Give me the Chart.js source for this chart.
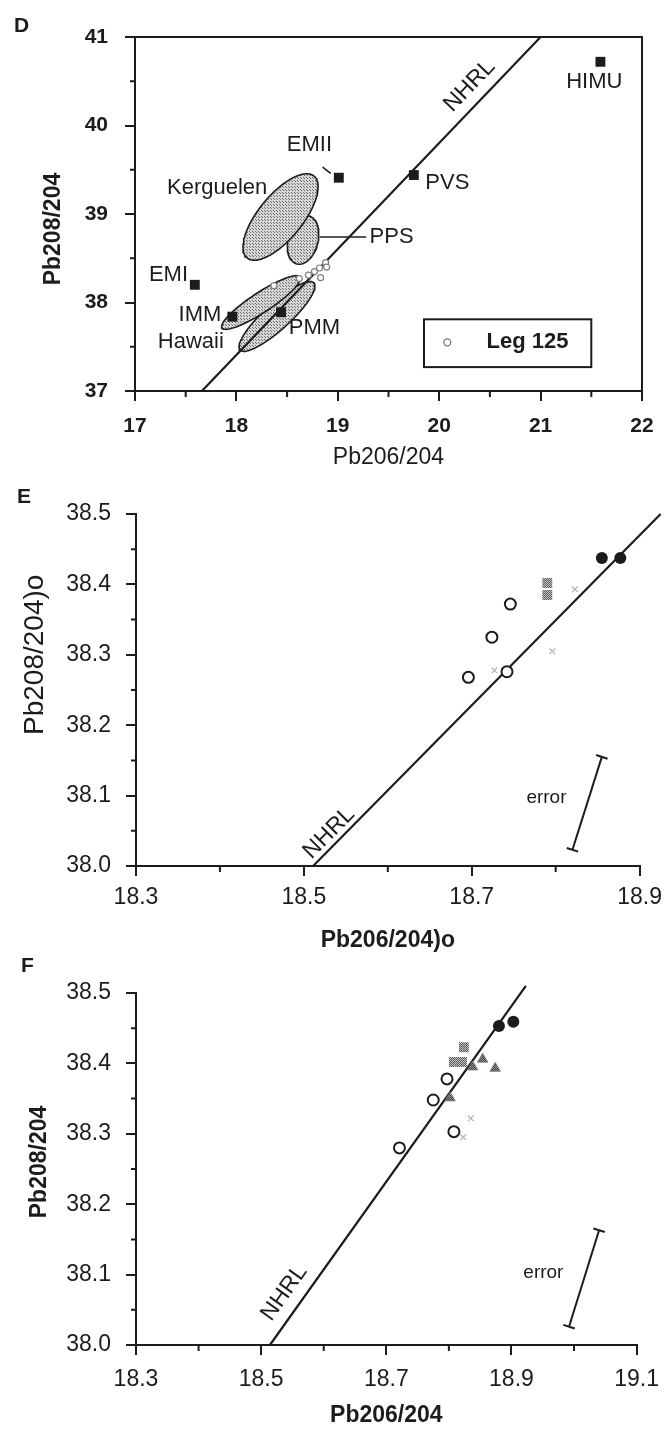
<!DOCTYPE html>
<html>
<head>
<meta charset="utf-8">
<script src="https://cdn.jsdelivr.net/npm/chart.js@4.4.1/dist/chart.umd.min.js"></script>
<style>
  body { margin: 0; background: #fff; }
  #page { position: relative; width: 670px; height: 1431px; font-family: 'Liberation Sans', Arial, sans-serif; color: #1c1c1c; }
  #page canvas { position: absolute; left: 0; }
  .letter { position: absolute; font-weight: bold; font-size: 21px; }
</style>
</head>
<body>
<div id="page">
  <canvas id="chartD" width="670" height="475" style="top:0"></canvas>
  <canvas id="chartE" width="670" height="480" style="top:475px"></canvas>
  <canvas id="chartF" width="670" height="476" style="top:955px"></canvas>
  <div class="letter" style="left:14px;top:13px">D</div>
  <div class="letter" style="left:17px;top:484px">E</div>
  <div class="letter" style="left:21px;top:953px">F</div>
</div>
<script>
// ---------------- panel D : mantle end-members ----------------
const dTicksX = [17, 18, 19, 20, 21, 22];
const dMinorX = [17.5, 18.5, 19.5, 20.5, 21.5];
const dTicksY = [37, 38, 39, 40, 41];
const dMinorY = [37.5, 38.5, 39.5, 40.5];

const endMembers = ['HIMU', 'EMII', 'PVS', 'EMI', 'IMM', 'PMM'];
const endPb206 = [21.59, 19.01, 19.75, 17.59, 17.96, 18.44];
const endPb208 = [40.72, 39.41, 39.44, 38.20, 37.84, 37.89];

const leg125Pb206 = [18.37, 18.62, 18.71, 18.77, 18.82, 18.88, 18.83, 18.89];
const leg125Pb208 = [38.19, 38.27, 38.31, 38.35, 38.39, 38.45, 38.28, 38.40];

// shaded fields: centre + two half-axes (data units)
const fieldNames = ['Kerguelen', 'PPS', 'Hawaii', 'Hawaii'];
const fieldCx = [18.435, 18.657, 18.243, 18.40];
const fieldCy = [38.966, 38.706, 38.00, 37.842];
const fieldMajor = [[0.330, 0.463], [0.059, 0.271], [0.385, 0.288], [0.365, 0.379]];
const fieldMinor = [[0.168, -0.157], [0.144, -0.041], [0.054, -0.095], [0.085, -0.110]];

const nhrlD = [[17.66, 37.0], [21.0, 41.0]];

// ---------------- panel E : age-corrected ----------------
const eTicksX = [18.3, 18.5, 18.7, 18.9];
const eMinorX = [18.4, 18.6, 18.8];
const efTicksY = [38.0, 38.1, 38.2, 38.3, 38.4, 38.5];
const efMinorY = [38.05, 38.15, 38.25, 38.35, 38.45];

const eOpenX = [18.696, 18.724, 18.746, 18.742];
const eOpenY = [38.268, 38.325, 38.372, 38.276];
const eFilledX = [18.855, 18.877];
const eFilledY = [38.4375, 38.4375];
const eSquareX = [18.79, 18.79];
const eSquareY = [38.402, 38.385];
const eFaintX = [18.823, 18.796, 18.727];
const eFaintY = [38.393, 38.305, 38.278];
const nhrlE = [[18.511, 38.0], [18.925, 38.50]];
const errorE = [[18.820, 38.023], [18.855, 38.155]];

// ---------------- panel F : measured ----------------
const fTicksX = [18.3, 18.5, 18.7, 18.9, 19.1];
const fMinorX = [18.4, 18.6, 18.8, 19.0];

const fOpenX = [18.721, 18.775, 18.797, 18.808];
const fOpenY = [38.280, 38.348, 38.378, 38.303];
const fFilledX = [18.880, 18.903];
const fFilledY = [38.453, 38.459];
const fSquareX = [18.824, 18.808, 18.821];
const fSquareY = [38.423, 38.402, 38.402];
const fTriX = [18.838, 18.854, 18.874, 18.802];
const fTriY = [38.395, 38.406, 38.393, 38.351];
const fFaintX = [18.835, 18.823];
const fFaintY = [38.322, 38.295];
const nhrlF = [[18.514, 38.0], [18.923, 38.51]];
const errorF = [[18.992, 38.026], [19.04, 38.163]];

const INK = '#1c1c1c';
const FONT = "'Liberation Sans', Arial, sans-serif";

const pts = (xs, ys) => xs.map((x, i) => ({ x: x, y: ys[i] }));
const seg = s => s.map(p => ({ x: p[0], y: p[1] }));

// small stipple patterns for the grey fills
function stipple(bg, dot, size) {
    const c = document.createElement('canvas');
    c.width = size; c.height = size;
    const g = c.getContext('2d');
    g.fillStyle = bg; g.fillRect(0, 0, size, size);
    g.fillStyle = dot;
    g.fillRect(0, 0, 1, 1);
    g.fillRect(Math.floor(size / 2), Math.floor(size / 2), 1, 1);
    return g.createPattern(c, 'repeat');
}
const fieldFill = stipple('#d6d6d6', '#6e6e6e', 3);
const squareFill = stipple('#c0c0c0', '#5e5e5e', 2);
const triFill = stipple('#9a9a9a', '#3a3a3a', 2);

function fieldOutline(i) {
    const out = [];
    for (let k = 0; k <= 90; k++) {
        const t = k / 90 * 2 * Math.PI;
        out.push({
            x: fieldCx[i] + fieldMajor[i][0] * Math.cos(t) + fieldMinor[i][0] * Math.sin(t),
            y: fieldCy[i] + fieldMajor[i][1] * Math.cos(t) + fieldMinor[i][1] * Math.sin(t)
        });
    }
    return out;
}

// end caps of the error bar sit perpendicular to it
function capRotation(s) {
    return ctx => {
        const { x, y } = ctx.chart.scales;
        const dx = x.getPixelForValue(s[1][0]) - x.getPixelForValue(s[0][0]);
        const dy = y.getPixelForValue(s[1][1]) - y.getPixelForValue(s[0][1]);
        return Math.atan2(dy, dx) * 180 / Math.PI + 90;
    };
}

function lineSet(s, extra) {
    return Object.assign({
        data: seg(s), showLine: true, borderColor: INK, borderWidth: 2.2,
        pointRadius: 0, clip: false, order: 5
    }, extra || {});
}

// minor ticks, frame, y title, labels and leader lines
const panelDecor = {
    id: 'panelDecor',
    afterDraw(chart, args, opts) {
        const { ctx, chartArea: a, scales: { x, y } } = chart;
        const px = v => x.getPixelForValue(v);
        const py = v => y.getPixelForValue(v);
        ctx.save();
        ctx.strokeStyle = INK;
        ctx.fillStyle = INK;
        ctx.lineWidth = 2;
        if (opts.frame) ctx.strokeRect(a.left, a.top, a.right - a.left, a.bottom - a.top);
        ctx.beginPath();
        (opts.minorX || []).forEach(v => { ctx.moveTo(px(v), a.bottom); ctx.lineTo(px(v), a.bottom + 6); });
        (opts.minorY || []).forEach(v => { ctx.moveTo(a.left - 5, py(v)); ctx.lineTo(a.left, py(v)); });
        ctx.stroke();

        ctx.lineWidth = 1.6;
        (opts.leaders || []).forEach(l => {
            ctx.beginPath();
            ctx.moveTo(px(l[0][0]), py(l[0][1]));
            ctx.lineTo(px(l[1][0]), py(l[1][1]));
            ctx.stroke();
        });

        if (opts.legend) {
            const L = opts.legend;
            const x0 = px(L.box[0][0]), y0 = py(L.box[0][1]);
            const x1 = px(L.box[1][0]), y1 = py(L.box[1][1]);
            ctx.lineWidth = 2;
            ctx.strokeRect(x0, y0, x1 - x0, y1 - y0);
            ctx.beginPath();
            ctx.lineWidth = 1.3;
            ctx.strokeStyle = '#777';
            ctx.arc(px(L.mark[0]), py(L.mark[1]), 3.5, 0, 2 * Math.PI);
            ctx.stroke();
            ctx.strokeStyle = INK;
        }

        ctx.textAlign = 'center';
        ctx.textBaseline = 'middle';
        if (opts.yTitle) {
            const t = opts.yTitle;
            ctx.save();
            ctx.font = t.weight + ' ' + t.size + 'px ' + FONT;
            ctx.translate(t.left, py(t.y));
            ctx.rotate(-Math.PI / 2);
            ctx.fillText(t.text, 0, 0);
            ctx.restore();
        }
        (opts.texts || []).forEach(t => {
            ctx.save();
            ctx.font = (t.weight || 'normal') + ' ' + (t.size || 22) + 'px ' + FONT;
            ctx.translate(px(t.x), py(t.y));
            if (t.along) {
                const ang = Math.atan2(py(t.along[1][1]) - py(t.along[0][1]), px(t.along[1][0]) - px(t.along[0][0]));
                ctx.rotate(ang);
            }
            ctx.fillText(t.text, 0, 0);
            ctx.restore();
        });
        ctx.restore();
    }
};

function axis(o) {
    return {
        type: 'linear', min: o.min, max: o.max,
        afterBuildTicks: s => { s.ticks = o.ticks.map(v => ({ value: v })); },
        afterFit: s => { if (o.width) s.width = o.width; if (o.height) s.height = o.height; },
        ticks: {
            color: INK, padding: o.pad,
            font: { family: FONT, size: o.tickSize, weight: o.tickWeight },
            callback: v => o.fmt(v)
        },
        grid: { drawOnChartArea: false, drawTicks: true, tickLength: 10, color: INK, lineWidth: 2 },
        border: { display: true, color: INK, width: 2 },
        title: {
            display: !!o.title, text: o.title, color: INK,
            font: { family: FONT, size: o.titleSize, weight: o.titleWeight },
            padding: o.titlePad
        }
    };
}

function panel(id, datasets, padding, xAxis, yAxis, decor) {
    return new Chart(document.getElementById(id), {
        type: 'scatter',
        data: { datasets: datasets },
        options: {
            responsive: false, animation: false, devicePixelRatio: 1,
            layout: { padding: padding },
            plugins: { legend: { display: false }, tooltip: { enabled: false }, panelDecor: decor },
            scales: { x: axis(xAxis), y: axis(yAxis) }
        },
        plugins: [panelDecor]
    });
}

const int = v => String(Math.round(v));
const one = v => v.toFixed(1);

// ------------------------------------
// D
// ------------------------------------
const fieldSets = fieldNames.map((name, i) => ({
    label: name, data: fieldOutline(i), showLine: true, fill: 'shape',
    backgroundColor: fieldFill, borderColor: INK, borderWidth: 1.6,
    pointRadius: 0, order: 10
}));

panel('chartD', [
    ...fieldSets,
    lineSet(nhrlD, { label: 'NHRL' }),
    { label: 'Leg 125', data: pts(leg125Pb206, leg125Pb208), pointStyle: 'circle', pointRadius: 3,
      backgroundColor: '#fff', borderColor: '#808080', borderWidth: 1.2, order: 1 },
    { label: 'End-members', data: pts(endPb206, endPb208), pointStyle: 'rect', pointRadius: 7,
      backgroundColor: INK, borderWidth: 0, order: 0 }
], { top: 37, right: 28, left: 0, bottom: 0 },
{ min: 17, max: 22, ticks: dTicksX, fmt: int, pad: 13, tickSize: 21, tickWeight: 'bold',
  height: 84, title: 'Pb206/204', titleSize: 23, titleWeight: 'normal', titlePad: { bottom: 4 } },
{ min: 37, max: 41, ticks: dTicksY, fmt: int, pad: 17, tickSize: 21, tickWeight: 'bold', width: 135 },
{
    frame: true, minorX: dMinorX, minorY: dMinorY,
    yTitle: { text: 'Pb208/204', left: 54, y: 38.83, size: 23, weight: 'bold' },
    leaders: [[[18.85, 39.53], [18.93, 39.46]], [[18.82, 38.74], [19.28, 38.74]]],
    legend: { box: [[19.85, 37.81], [21.50, 37.27]], mark: [20.08, 37.55] },
    texts: [
        { text: 'HIMU', x: 21.53, y: 40.49 },
        { text: 'EMII', x: 18.72, y: 39.78 },
        { text: 'PVS', x: 20.08, y: 39.35 },
        { text: 'Kerguelen', x: 17.81, y: 39.29 },
        { text: 'PPS', x: 19.53, y: 38.74 },
        { text: 'EMI', x: 17.33, y: 38.31 },
        { text: 'IMM', x: 17.64, y: 37.86 },
        { text: 'Hawaii', x: 17.55, y: 37.55 },
        { text: 'PMM', x: 18.77, y: 37.71 },
        { text: 'NHRL', x: 20.30, y: 40.45, along: nhrlD, size: 23 },
        { text: 'Leg 125', x: 20.87, y: 37.55, weight: 'bold', size: 22 }
    ]
});

// ------------------------------------
// E and F share their marker styles
// ------------------------------------
const openStyle = { pointStyle: 'circle', pointRadius: 5.5, backgroundColor: '#fff', borderColor: INK, borderWidth: 2, order: 0 };
const filledStyle = { pointStyle: 'circle', pointRadius: 6, backgroundColor: INK, borderWidth: 0, order: 0 };
const squareStyle = { pointStyle: 'rect', pointRadius: 7, backgroundColor: squareFill, borderWidth: 0, order: 2 };
const triStyle = { pointStyle: 'triangle', pointRadius: 6, backgroundColor: triFill, borderColor: '#777', borderWidth: 0.8, order: 1 };
const faintStyle = { pointStyle: 'crossRot', pointRadius: 4, borderColor: '#b4b4b4', borderWidth: 1.2, order: 3 };

function errorSet(s) {
    return lineSet(s, { label: 'error', pointRadius: 6, pointStyle: 'line', pointBorderWidth: 2,
        pointBorderColor: INK, pointRotation: capRotation(s), borderWidth: 2 });
}

panel('chartE', [
    lineSet(nhrlE, { label: 'NHRL' }),
    errorSet(errorE),
    Object.assign({ data: pts(eFaintX, eFaintY) }, faintStyle),
    Object.assign({ data: pts(eSquareX, eSquareY) }, squareStyle),
    Object.assign({ data: pts(eOpenX, eOpenY) }, openStyle),
    Object.assign({ data: pts(eFilledX, eFilledY) }, filledStyle)
], { top: 39, right: 27, left: 0, bottom: 0 },
{ min: 18.3, max: 18.9, ticks: eTicksX, fmt: one, pad: 8, tickSize: 23, tickWeight: 'normal',
  height: 89, title: 'Pb206/204)o', titleSize: 23, titleWeight: 'bold', titlePad: { bottom: 1 } },
{ min: 38.0, max: 38.5, ticks: efTicksY, fmt: one, pad: 15, tickSize: 23, tickWeight: 'normal', width: 136 },
{
    minorX: eMinorX, minorY: efMinorY,
    yTitle: { text: 'Pb208/204)o', left: 35, y: 38.30, size: 28, weight: 'normal' },
    texts: [
        { text: 'NHRL', x: 18.530, y: 38.047, along: nhrlE, size: 23 },
        { text: 'error', x: 18.789, y: 38.097, size: 19 }
    ]
});

panel('chartF', [
    lineSet(nhrlF, { label: 'NHRL' }),
    errorSet(errorF),
    Object.assign({ data: pts(fFaintX, fFaintY) }, faintStyle),
    Object.assign({ data: pts(fSquareX, fSquareY) }, squareStyle),
    Object.assign({ data: pts(fTriX, fTriY) }, triStyle),
    Object.assign({ data: pts(fOpenX, fOpenY) }, openStyle),
    Object.assign({ data: pts(fFilledX, fFilledY) }, filledStyle)
], { top: 38, right: 27, left: 0, bottom: 0 },
{ min: 18.3, max: 19.1, ticks: fTicksX, fmt: one, pad: 11, tickSize: 23, tickWeight: 'normal',
  height: 86, title: 'Pb206/204', titleSize: 23, titleWeight: 'bold', titlePad: { bottom: 2 } },
{ min: 38.0, max: 38.5, ticks: efTicksY, fmt: one, pad: 15, tickSize: 23, tickWeight: 'normal', width: 136 },
{
    minorX: fMinorX, minorY: efMinorY,
    yTitle: { text: 'Pb208/204', left: 40, y: 38.26, size: 23, weight: 'bold' },
    texts: [
        { text: 'NHRL', x: 18.537, y: 38.074, along: nhrlF, size: 23 },
        { text: 'error', x: 18.951, y: 38.102, size: 19 }
    ]
});
</script>
</body>
</html>
